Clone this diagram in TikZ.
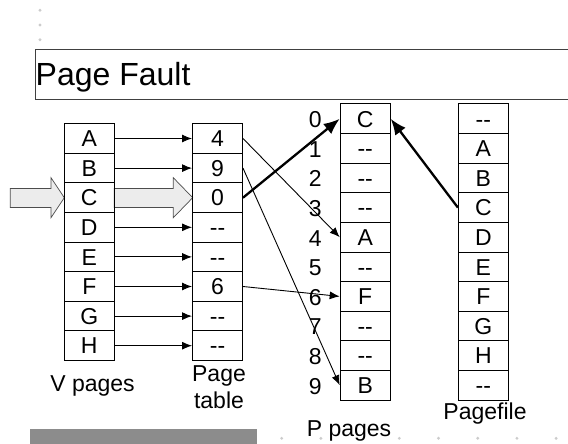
\documentclass[tikz,border=0pt]{standalone}
\usepackage{fontspec}
\setmainfont{Liberation Sans}
\usepackage{tikz}
\usetikzlibrary{arrows.meta,positioning}
\newcommand{\blank}{-\kern0pt-}

\begin{document}
\begin{tikzpicture}[x=1pt, y=-1pt]
	\tikzstyle{every node} = [rectangle, draw = black, line width = 1pt, minimum width = 50pt, minimum height = 29.6pt, inner sep = 0pt, text height = 16.5pt, text depth = 0pt, font = \fontsize{23}{27}\selectfont]
	\tikzstyle{label} = [draw = none, minimum width = 0pt, minimum height = 0pt]
	\tikzstyle{thin arrow} = [draw, line width = 0.9pt, -{Latex[length=10pt, width=8pt]}]
	\tikzstyle{thick arrow} = [draw, line width = 2.3pt, -{Latex[length=16pt, width=13pt]}]
	\tikzstyle{hollow} = [fill = gray!15, draw = black!70, line width = 0.7pt]
	\useasboundingbox (0,0) rectangle (568,444);

	% dots and bar
	\foreach \y in {10.3, 25, 39.7} \fill[gray!40] (40,\y) circle (1.6pt);
	\foreach \x in {281.7, 320.9, 399.3, 438.5, 477.7, 516.9, 556.1} \fill[gray!40] (\x,438.3) circle (1.6pt);
	\fill[black!45] (30,429) rectangle (256.7,444);

	% heading
	\draw[black!75, line width = 1pt] (568,50) -- (35,50) -- (35,99.5) -- (568,99.5);
	\node[label, anchor = base west, font = \fontsize{32}{36}\selectfont] (title) at (35.2,86) {Page Fault};

	% big arrows onto C
	\path[hollow] (10.3,188.5) -- (51,188.5) -- (51,177.7) -- (64.3,197.7) -- (51,217.7) -- (51,207.5) -- (10.3,207.5) -- cycle;
	\path[hollow] (114.3,188.5) -- (173.3,188.5) -- (173.3,177.7) -- (192.7,197.7) -- (173.3,217.7) -- (173.3,207.5) -- (114.3,207.5) -- cycle;

	% V pages
\node (v1) at (89.3, 138.5) {A};
\node (v2) at (89.3, 168.1) {B};
\node (v3) at (89.3, 197.7) {C};
\node (v4) at (89.3, 227.3) {D};
\node (v5) at (89.3, 256.9) {E};
\node (v6) at (89.3, 286.5) {F};
\node (v7) at (89.3, 316.1) {G};
\node (v8) at (89.3, 345.7) {H};

	% page table
\node (t1) at (217.5, 138.5) {4};
\node (t2) at (217.5, 168.1) {9};
\node (t3) at (217.5, 197.7) {0};
\node (t4) at (217.5, 227.3) {\blank};
\node (t5) at (217.5, 256.9) {\blank};
\node (t6) at (217.5, 286.5) {6};
\node (t7) at (217.5, 316.1) {\blank};
\node (t8) at (217.5, 345.7) {\blank};

	% P pages
\node (p0) at (365.2, 118.8) {C};
\node (p1) at (365.2, 148.4) {\blank};
\node (p2) at (365.2, 178.0) {\blank};
\node (p3) at (365.2, 207.6) {\blank};
\node (p4) at (365.2, 237.2) {A};
\node (p5) at (365.2, 266.8) {\blank};
\node (p6) at (365.2, 296.4) {F};
\node (p7) at (365.2, 326.0) {\blank};
\node (p8) at (365.2, 355.6) {\blank};
\node (p9) at (365.2, 385.2) {B};

	% pagefile
\node (f0) at (483.4, 118.8) {\blank};
\node (f1) at (483.4, 148.4) {A};
\node (f2) at (483.4, 178.0) {B};
\node (f3) at (483.4, 207.6) {C};
\node (f4) at (483.4, 237.2) {D};
\node (f5) at (483.4, 266.8) {E};
\node (f6) at (483.4, 296.4) {F};
\node (f7) at (483.4, 326.0) {G};
\node (f8) at (483.4, 355.6) {H};
\node (f9) at (483.4, 385.2) {\blank};

	% frame numbers
\node[label] (n0) at (315.3, 119.5) {0};
\node[label] (n1) at (315.3, 149.1) {1};
\node[label] (n2) at (315.3, 178.7) {2};
\node[label] (n3) at (315.3, 208.3) {3};
\node[label] (n4) at (315.3, 237.9) {4};
\node[label] (n5) at (315.3, 267.5) {5};
\node[label] (n6) at (315.3, 297.1) {6};
\node[label] (n7) at (315.3, 326.7) {7};
\node[label] (n8) at (315.3, 356.3) {8};
\node[label] (n9) at (315.3, 385.9) {9};

	\path[thin arrow] (v1) -- (t1);
	\path[thin arrow] (v2) -- (t2);
	\path[thin arrow] (v4) -- (t4);
	\path[thin arrow] (v5) -- (t5);
	\path[thin arrow] (v6) -- (t6);
	\path[thin arrow] (v7) -- (t7);
	\path[thin arrow] (v8) -- (t8);
	\path[thin arrow] (t1.east) -- (p4.west);
	\path[thin arrow] (t2.east) -- (p9.west);
	\path[thin arrow] (t6.east) -- (p6.west);
	\path[thick arrow] (t3.east) -- (p0.west);
	\path[thick arrow] (f3.west) -- (p0.east);

	\node[label, anchor = base] (vlab) at (92.5, 391) {V pages};
	\node[label, anchor = base] (tlab) at (219, 381.7) {Page};
	\node[label, anchor = base] (tlab2) at (219, 408) {table};
	\node[label, anchor = base] (plab) at (349, 436) {P pages};
	\node[label, anchor = base] (flab) at (485, 419.3) {Pagefile};
\end{tikzpicture}
\end{document}
